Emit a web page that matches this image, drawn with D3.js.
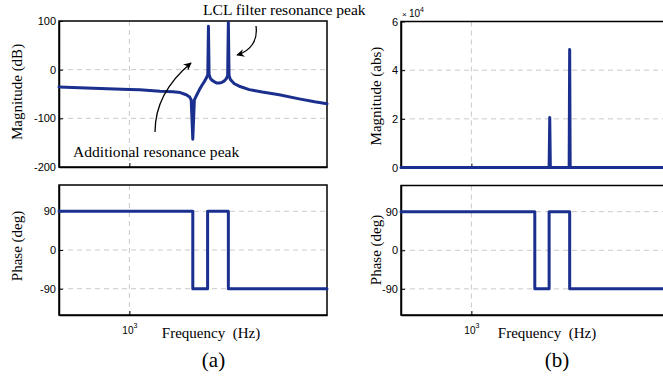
<!DOCTYPE html>
<html><head><meta charset="utf-8">
<script src="https://cdn.jsdelivr.net/npm/d3@7"></script>
<style>body{margin:0;background:#fff}svg{display:block}</style>
</head><body>
<script>
// ---- data ----
const freqDomain = [500, 7000];
// (a) magnitude in dB
const freqMagA = [500, 700, 1000, 1107, 1350, 1535, 1650, 1750, 1810, 1838, 1867, 1896, 1950, 1994, 2050, 2095, 2140, 2164, 2178, 2192, 2221, 2260, 2310, 2370, 2427, 2490, 2549, 2600, 2632, 2650, 2668, 2703, 2760, 2811, 2950, 3257, 3700, 4372, 5318, 6200, 7000];
const magDbA   = [-35.7, -38, -40.5, -41.2, -44.5, -45.5, -47, -51.5, -56, -62, -143, -62, -50, -41, -31, -24, -16, -10, 89, -10, -18, -22, -25, -27.5, -27.5, -26, -23, -18, -12, 97.5, -12, -20, -25, -29, -34, -41, -46, -51.5, -60, -66, -70];
// (b) magnitude absolute
const freqMagB = [500, 2150, 2163, 2176, 2619, 2632, 2645, 7000];
const magAbsB  = [0, 0, 20500, 0, 0, 48500, 0, 0];
// phase (deg)
const freqPhA  = [500, 1867, 1867, 2160, 2160, 2650, 2650, 7000];
const phaseA   = [90, 90, -90, -90, 90, 90, -90, -90];
const freqPhB  = [500, 1867, 1867, 2150, 2150, 2632, 2632, 7000];
const phaseB   = [90, 90, -90, -90, 90, 90, -90, -90];
// ticks
const magDbTicks  = [-200, -100, 0, 100];
const magAbsTicks = [0, 20000, 40000, 60000];
const magAbsLabels = ["0", "2", "4", "6"];
const phaseTicks  = [-90, 0, 90];
const freqTicks   = [1000];

const W = 663, H = 377;
const BLUE = "#1b2f8e", GRID = "#c9c9c9";
const svg = d3.select("body").append("svg").attr("width", W).attr("height", H);

svg.append("defs").append("marker").attr("id","ah").attr("viewBox","0 0 10 10")
  .attr("refX",9).attr("refY",5).attr("markerWidth",8).attr("markerHeight",8)
  .attr("markerUnits","userSpaceOnUse").attr("orient","auto")
  .append("path").attr("d","M0,0 L10,5 L0,10 L3,5 Z").attr("fill","#000");

function panel(opt) {
  const x = d3.scaleLog().domain(freqDomain).range([opt.x0, opt.x1]);
  const y = d3.scaleLinear().domain(opt.yDomain).range([opt.y1, opt.y0]);
  const g = svg.append("g");
  // grid
  opt.yTicks.forEach(t => {
    const yy = y(t);
    if (Math.abs(yy - opt.y0) > 1 && Math.abs(yy - opt.y1) > 1)
      g.append("line").attr("x1", opt.x0).attr("x2", opt.x1).attr("y1", yy).attr("y2", yy)
        .attr("stroke", GRID).attr("stroke-dasharray", "5,4");
  });
  freqTicks.forEach(t => {
    g.append("line").attr("x1", x(t)).attr("x2", x(t)).attr("y1", opt.y0).attr("y2", opt.y1)
      .attr("stroke", GRID).attr("stroke-dasharray", "5,4");
  });
  // box
  g.append("rect").attr("x", opt.x0).attr("y", opt.y0).attr("width", opt.x1 - opt.x0).attr("height", opt.y1 - opt.y0)
    .attr("fill", "none").attr("stroke", "#000").attr("stroke-width", 1.5);
  // y axis
  const ya = g.append("g").attr("transform", `translate(${opt.x0},0)`)
    .call(d3.axisLeft(y).tickValues(opt.yTicks).tickSizeInner(-4).tickSizeOuter(0).tickPadding(3)
      .tickFormat((d, i) => opt.yLabels ? opt.yLabels[i] : String(d)));
  ya.select(".domain").attr("stroke", "#000").attr("stroke-width", 1.5);
  ya.selectAll("text").attr("font-family", "Liberation Sans, Arial, sans-serif").attr("font-size", 11).attr("fill", "#000");
  // x axis
  const xa = g.append("g").attr("transform", `translate(0,${opt.y1})`)
    .call(d3.axisBottom(x).tickValues(freqTicks).tickSizeInner(-4).tickSizeOuter(0).tickPadding(8).tickFormat(""));
  xa.select(".domain").attr("stroke", "#000").attr("stroke-width", 1.5);
  if (opt.xLabels) {
    xa.selectAll(".tick").each(function(d) {
      const t = d3.select(this).append("text").attr("y", 19).attr("fill", "#000")
        .attr("font-family", "Liberation Sans, Arial, sans-serif").attr("font-size", 10).attr("text-anchor", "middle");
      t.append("tspan").text("10");
      t.append("tspan").attr("dy", -6).attr("font-size", 7).text(Math.round(Math.log10(d)));
    });
  }
  // line
  const line = d3.line().x(d => x(d[0])).y(d => y(d[1]));
  g.append("path").datum(opt.fx.map((f, i) => [f, opt.fy[i]])).attr("d", line)
    .attr("fill", "none").attr("stroke", BLUE).attr("stroke-width", 3)
    .attr("stroke-linejoin", "round").attr("stroke-linecap", "round");
  return {x, y};
}

// (a)
panel({x0: 59, x1: 327, y0: 21, y1: 167, yDomain: [-200, 100], yTicks: magDbTicks, fx: freqMagA, fy: magDbA});
panel({x0: 59, x1: 327, y0: 185, y1: 315, yDomain: [-151, 151], yTicks: phaseTicks, fx: freqPhA, fy: phaseA, xLabels: true});
// (b)
panel({x0: 401, x1: 669, y0: 21.5, y1: 167.5, yDomain: [0, 60000], yTicks: magAbsTicks, yLabels: magAbsLabels, fx: freqMagB, fy: magAbsB});
panel({x0: 401, x1: 669, y0: 185.5, y1: 315, yDomain: [-151, 151], yTicks: phaseTicks, fx: freqPhB, fy: phaseB, xLabels: true});

const serif = "Liberation Serif, Times New Roman, serif";
function label(txt, x, y, size, rot) {
  const t = svg.append("text").attr("x", x).attr("y", y).attr("text-anchor", "middle")
    .attr("font-family", serif).attr("font-size", size).attr("fill", "#000").text(txt);
  if (rot) t.attr("transform", `rotate(-90,${x},${y})`);
  return t;
}
label("Magnitude (dB)", 22, 92, 15, true);
label("Phase (deg)", 22, 246, 15, true);
label("Magnitude (abs)", 381, 96, 15, true);
label("Phase (deg)", 381, 250, 15, true);
label("Frequency\u00a0 (Hz)", 211, 338, 15);
label("Frequency\u00a0 (Hz)", 547, 338, 15);
label("(a)", 213.5, 367, 21);
label("(b)", 557, 367, 21);

// x10^4
const ex = svg.append("text").attr("x", 402).attr("y", 17).attr("font-family", "Liberation Sans, Arial, sans-serif")
  .attr("font-size", 10).attr("fill", "#000");
ex.append("tspan").attr("font-size", 8).text("\u00d7 ");
ex.append("tspan").text("10");
ex.append("tspan").attr("dy", -5).attr("font-size", 7).text("4");

// annotations
svg.append("text").attr("x", 203).attr("y", 15).attr("font-family", serif).attr("font-size", 15.6).attr("fill", "#000")
  .text("LCL filter resonance peak");
svg.append("text").attr("x", 73).attr("y", 157).attr("font-family", serif).attr("font-size", 15.6).attr("fill", "#000")
  .text("Additional resonance peak");
svg.append("path").attr("d", "M256,26 C258,40 251,51 237,55").attr("fill", "none").attr("stroke", "#000")
  .attr("stroke-width", 1.3).attr("marker-end", "url(#ah)");
svg.append("path").attr("d", "M155,132 C155,105 167,83 191,63").attr("fill", "none").attr("stroke", "#000")
  .attr("stroke-width", 1.3).attr("marker-end", "url(#ah)");
</script>
</body></html>
